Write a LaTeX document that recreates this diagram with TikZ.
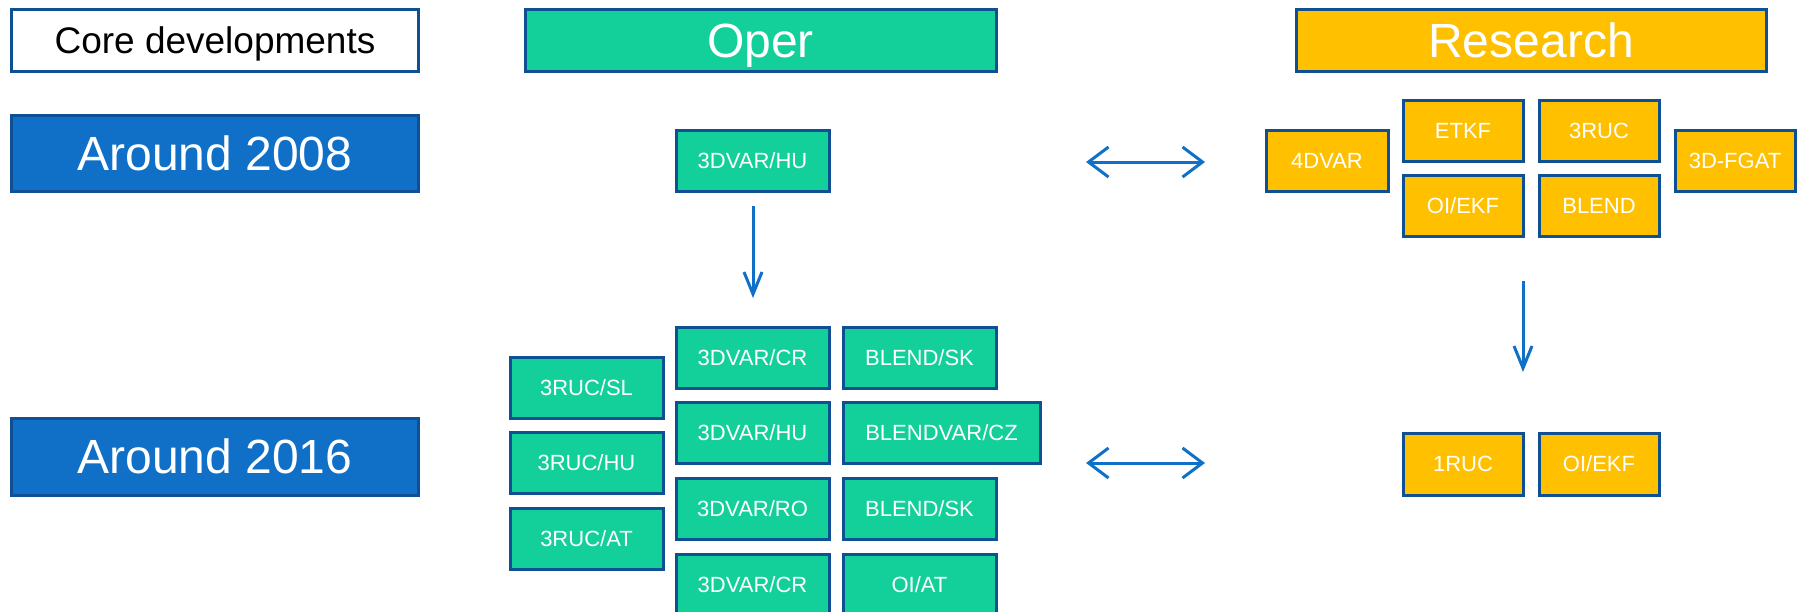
\documentclass[tikz,border=0pt]{standalone}
\usepackage{fontspec}
\setmainfont{Liberation Sans}
\usetikzlibrary{arrows.meta}
\definecolor{hdrblue}{HTML}{1070C8}
\definecolor{edge}{HTML}{0F5092}
\definecolor{opgreen}{HTML}{13D09A}
\definecolor{resamber}{HTML}{FFC000}
\definecolor{arrowblue}{HTML}{1070C8}
\tikzset{
  box/.style={draw=edge, line width=3pt, rectangle, inner sep=0pt, align=center},
  bigtext/.style={font=\fontsize{48}{56}\selectfont, text height=34.4pt, text depth=0pt},
  hdr/.style={box, bigtext, minimum width=407pt, minimum height=62pt, text=white},
  yearbox/.style={box, bigtext, fill=hdrblue, minimum width=407pt, minimum height=76pt, text=white},
  smalltext/.style={font=\fontsize{22}{26}\selectfont, text height=15.8pt, text depth=0pt},
  opbox/.style={box, smalltext, fill=opgreen, minimum width=153pt, minimum height=61pt, text=white},
  resbox/.style={box, smalltext, fill=resamber, minimum width=120pt, minimum height=61pt, text=white},
  conn/.style={draw=arrowblue, line width=3pt},
  dbl/.style={conn, {Straight Barb[length=20pt,width=30pt,line width=3pt]}-{Straight Barb[length=20pt,width=30pt,line width=3pt]}},
  down/.style={conn, -{Straight Barb[length=22pt,width=18pt,line width=3pt]}}
}
\begin{document}
\begin{tikzpicture}[x=1pt,y=-1pt]
\clip (0,0) rectangle (1816,611);
\fill[white] (0,0) rectangle (1816,611);
% headers
\node[hdr, fill=white, text=black, font=\fontsize{37}{44}\selectfont, text height=26.5pt] (core) at (215,40) {Core developments};
\node[hdr, fill=opgreen, minimum width=471pt] (oper) at (760.5,40) {Oper};
\node[hdr, fill=resamber, minimum width=470pt] (research) at (1531,40) {Research};
\node[yearbox] (y2008) at (215,153) {Around 2008};
\node[yearbox, minimum height=77pt] (y2016) at (215,456.5) {Around 2016};
% 2008 oper
\node[opbox] (hu08) at (752.5,160.5) {3DVAR/HU};
% 2008 research
\node[resbox, minimum width=122pt] (r4dvar) at (1327,160.5) {4DVAR};
\node[resbox] (retkf) at (1463,130.5) {ETKF};
\node[resbox] (r3ruc) at (1599,130.5) {3RUC};
\node[resbox] (roiekf) at (1463,205.5) {OI/EKF};
\node[resbox] (rblend) at (1599,205.5) {BLEND};
\node[resbox] (r3dfgat) at (1735,160.5) {3D-FGAT};
% 2016 oper
\node[opbox] (rucsl) at (586.5,387.5) {3RUC/SL};
\node[opbox] (ruchu) at (586.5,462.5) {3RUC/HU};
\node[opbox] (rucat) at (586.5,538.5) {3RUC/AT};
\node[opbox] (vcr) at (752.5,357.5) {3DVAR/CR};
\node[opbox] (vhu) at (752.5,432.5) {3DVAR/HU};
\node[opbox] (vro) at (752.5,508.5) {3DVAR/RO};
\node[opbox] (vcrb) at (752.5,584.5) {3DVAR/CR};
\node[opbox] (bsk) at (919.5,357.5) {BLEND/SK};
\node[opbox, minimum width=197pt] (bvcz) at (941.5,432.5) {BLENDVAR/CZ};
\node[opbox] (bskb) at (919.5,508.5) {BLEND/SK};
\node[opbox] (oiat) at (919.5,584.5) {OI/AT};
% 2016 research
\node[resbox, minimum height=62pt] (r1ruc) at (1463,464) {1RUC};
\node[resbox, minimum height=62pt] (roiekfb) at (1599,464) {OI/EKF};
% connectors
\coordinate (a1l) at (1086,162);
\coordinate (a1r) at (1205,162);
\coordinate (a2l) at (1086,463);
\coordinate (a2r) at (1205,463);
\coordinate (d1t) at (753,206);
\coordinate (d1b) at (753,298);
\coordinate (d2t) at (1523,281);
\coordinate (d2b) at (1523,372);
\draw[dbl] (a1l) -- (a1r);
\draw[dbl] (a2l) -- (a2r);
\draw[down] (d1t) -- (d1b);
\draw[down] (d2t) -- (d2b);
\end{tikzpicture}
\end{document}
